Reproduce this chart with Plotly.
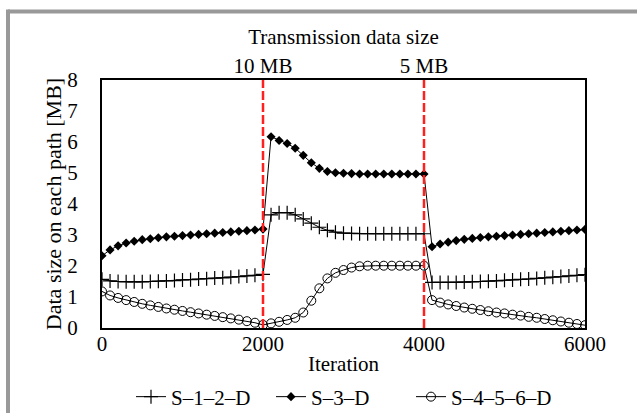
import plotly.graph_objects as go

iterations = list(range(0, 6001, 100))

s12d = [1.57, 1.52, 1.50, 1.49, 1.49, 1.49, 1.50, 1.51, 1.52, 1.53, 1.55, 1.56, 1.58, 1.59, 1.61, 1.62, 1.64, 1.66, 1.68, 1.70, 1.73,
        3.65, 3.72, 3.72, 3.65, 3.52, 3.38, 3.25, 3.15, 3.09, 3.06, 3.05, 3.04, 3.04, 3.04, 3.04, 3.04, 3.04, 3.04, 3.04, 3.04,
        1.47, 1.47, 1.47, 1.47, 1.48, 1.49, 1.50, 1.51, 1.52, 1.54, 1.55, 1.57, 1.58, 1.60, 1.62, 1.64, 1.66, 1.68, 1.70, 1.72]

s3d = [2.33, 2.52, 2.65, 2.74, 2.80, 2.85, 2.88, 2.91, 2.94, 2.96, 2.98, 3.00, 3.02, 3.04, 3.06, 3.08, 3.10, 3.12, 3.14, 3.16, 3.19,
       6.17, 6.05, 5.95, 5.80, 5.57, 5.33, 5.15, 5.05, 5.01, 4.99, 4.98, 4.97, 4.97, 4.97, 4.97, 4.97, 4.97, 4.97, 4.97, 4.97,
       2.62, 2.71, 2.77, 2.82, 2.86, 2.89, 2.92, 2.94, 2.96, 2.98, 3.00, 3.02, 3.04, 3.06, 3.08, 3.10, 3.12, 3.14, 3.16, 3.18]

s4567d = [1.18, 1.05, 0.97, 0.90, 0.84, 0.78, 0.73, 0.68, 0.63, 0.59, 0.55, 0.51, 0.47, 0.43, 0.39, 0.35, 0.31, 0.27, 0.22, 0.17, 0.10,
          0.15, 0.20, 0.26, 0.33, 0.50, 0.88, 1.28, 1.60, 1.78, 1.87, 1.95, 1.99, 2.01, 2.01, 2.01, 2.01, 2.01, 2.01, 2.01, 2.01,
          0.90, 0.82, 0.76, 0.71, 0.66, 0.62, 0.58, 0.54, 0.50, 0.47, 0.43, 0.40, 0.36, 0.33, 0.29, 0.25, 0.21, 0.17, 0.13, 0.09]

switch_points = [2000, 4000]
switch_labels = ["10 MB", "5 MB"]
x_ticks = [0, 2000, 4000, 6000]
y_ticks = [0, 1, 2, 3, 4, 5, 6, 7, 8]

FAMILY = "Liberation Serif, Times New Roman, serif"
FS = 21
F = dict(family=FAMILY, size=FS, color="black")

fig = go.Figure()

# red dashed separators
for sp in switch_points:
    fig.add_trace(go.Scatter(x=[sp, sp], y=[0, 8], mode="lines", xaxis="x2",
                             line=dict(color="#ff2020", width=2.5, dash="9px,3px"),
                             showlegend=False, hoverinfo="skip"))

fig.add_trace(go.Scatter(x=iterations, y=s12d, name="S\u20131\u20132\u2013D", mode="lines+markers",
                         line=dict(color="black", width=1),
                         marker=dict(symbol="cross-thin", size=10, line=dict(color="black", width=1.2))))
fig.add_trace(go.Scatter(x=iterations, y=s3d, name="S\u20133\u2013D", mode="lines+markers",
                         line=dict(color="black", width=1),
                         marker=dict(symbol="diamond", size=7, color="black")))
fig.add_trace(go.Scatter(x=iterations, y=s4567d, name="S\u20134\u20135\u20136\u2013D", mode="lines+markers",
                         line=dict(color="black", width=1),
                         marker=dict(symbol="circle-open", size=9, color="black", line=dict(width=1))))

W, H = 637, 414
L, R, T, B = 102, 52, 80, 86
pw, ph = W - L - R, H - T - B

def px(x):
    return (x - L) / pw

def py(y):
    return (H - B - y) / ph

fig.update_layout(
    width=W, height=H,
    margin=dict(l=L, r=R, t=T, b=B, autoexpand=False),
    paper_bgcolor="white", plot_bgcolor="white",
    font=F,
    xaxis=dict(range=[0, 6000], tickvals=x_ticks, showgrid=False, zeroline=False,
               showline=True, linecolor="black", linewidth=2, mirror=True,
               ticks="", ticklabelstandoff=0, tickfont=F, automargin=False,
               title=dict(text="Iteration", standoff=8, font=F)),
    xaxis2=dict(range=[0, 6000], overlaying="x", side="top", tickvals=switch_points,
                ticktext=switch_labels, showgrid=False, zeroline=False, showline=False,
                ticks="", ticklabelstandoff=2, tickfont=F, automargin=False,
                title=dict(text="Transmission data size", standoff=3, font=F)),
    yaxis=dict(range=[0, 8], tickvals=y_ticks, showgrid=False, zeroline=False,
               showline=True, linecolor="black", linewidth=2, mirror=True,
               ticks="", ticklabelstandoff=18, tickfont=F, automargin=False,
               title=dict(text="Data size on each path [MB]", standoff=0,
                          font=dict(family=FAMILY, size=22, color="black"))),
    legend=dict(orientation="h", xref="container", yref="container",
                x=131 / W, y=1 - 397 / H, xanchor="left", yanchor="middle",
                font=F, entrywidth=95, entrywidthmode="pixels",
                tracegroupgap=0, bgcolor="rgba(0,0,0,0)"),
    shapes=[
        dict(type="line", xref="paper", yref="paper", x0=px(8), x1=px(W + 5), y0=py(11.5), y1=py(11.5),
             line=dict(color="#999999", width=4)),
        dict(type="line", xref="paper", yref="paper", x0=px(8), x1=px(8), y0=py(9.5), y1=py(413),
             line=dict(color="#999999", width=4)),
    ],
)

try:
    fig.update_xaxes(selector=dict(anchor="y"), ticklabelstandoff=-4)
    fig.layout.xaxis.ticklabelstandoff = -4
except ValueError:
    pass

fig.write_html("out.html")
